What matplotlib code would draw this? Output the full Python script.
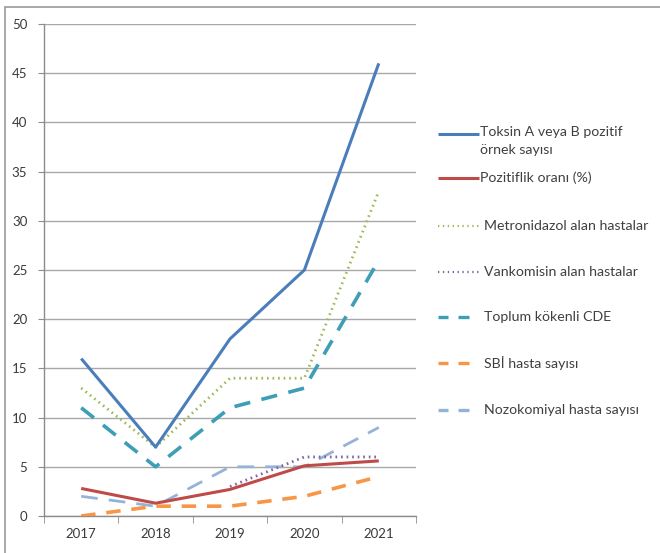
import numpy as np
import matplotlib
matplotlib.use("Agg")
import matplotlib.pyplot as plt
from matplotlib.lines import Line2D
from matplotlib.patches import Rectangle

plt.rcParams['font.family'] = ['Lato', 'DejaVu Sans']

years = ['2017', '2018', '2019', '2020', '2021']
toksin = [16, 7, 18, 25, 46]
pozitiflik = [2.8, 1.3, 2.7, 5.1, 5.6]
metronidazol = [13, 7, 14, 14, 33]
vankomisin = [np.nan, np.nan, 3, 6, 6]
toplum = [11, 5, 11, 13, 26]
sbi = [0, 1, 1, 2, 4]
nozokomiyal = [2, 1, 5, 5, 9]

labels = ['Toksin A veya B pozitif\nörnek sayısı', 'Pozitiflik oranı (%)',
          'Metronidazol alan hastalar', 'Vankomisin alan hastalar',
          'Toplum kökenli CDE', 'SBİ hasta sayısı', 'Nozokomiyal hasta sayısı']

W, H = 660, 553
fig = plt.figure(figsize=(W / 100, H / 100), dpi=100)

# outer chart frame
fig.add_artist(Rectangle((5 / W, -0.05), 1.2, 1 - 7 / H + 0.05, transform=fig.transFigure,
                         fill=False, edgecolor='#9a9a9a', linewidth=1.2))

ax = fig.add_axes([44 / W, 1 - 516 / H, (416 - 44) / W, (516 - 24) / H])
x = np.arange(len(years))

styles = [
    dict(data=toksin, color='#4a7ebb', lw=2.2, ls='-'),
    dict(data=pozitiflik, color='#be4b48', lw=2.2, ls='-'),
    dict(data=metronidazol, color='#9bbb59', lw=2.0, ls=(0, (0.6, 1.4))),
    dict(data=vankomisin, color='#8064a2', lw=2.0, ls=(0, (0.6, 1.4))),
    dict(data=toplum, color='#3c9fb6', lw=2.6, ls=(0, (4.5, 3.2))),
    dict(data=sbi, color='#f79646', lw=2.6, ls=(0, (4.0, 3.0))),
    dict(data=nozokomiyal, color='#95b3d7', lw=2.0, ls=(0, (6.0, 4.0))),
]

# draw in stacking order (last drawn on top)
order = [6, 5, 4, 3, 2, 1, 0]
for i in order:
    s = styles[i]
    ax.plot(x, s['data'], color=s['color'], lw=s['lw'], linestyle=s['ls'],
            solid_capstyle='butt', dash_capstyle='butt', zorder=3 + (6 - i) * 0.1)

ax.set_xlim(-0.5, 4.5)
ax.set_ylim(0, 50)
ax.set_yticks(range(0, 51, 5))
ax.set_xticks(x)
ax.set_xticklabels(years)
ax.set_xticks(np.arange(-0.5, 5, 1), minor=True)
ax.tick_params(axis='x', which='major', length=0, pad=9, labelsize=9.5, labelcolor='#3a3a3a')
ax.tick_params(axis='x', which='minor', length=5, color='#8c8c8c', direction='out')
ax.tick_params(axis='y', length=4, color='#8c8c8c', pad=8, labelsize=9.5, labelcolor='#3a3a3a')
ax.grid(axis='y', color='#a8a8a8', lw=1.0)
ax.set_axisbelow(True)
for sp in ['top', 'right']:
    ax.spines[sp].set_visible(False)
for sp in ['left', 'bottom']:
    ax.spines[sp].set_color('#8c8c8c')
    ax.spines[sp].set_linewidth(1.0)

# legend drawn at the right of the plot area
legend_y = [134, 178, 226, 272, 317, 363, 410]
x0, x1 = 438, 479
for i, (s, lab, yy) in enumerate(zip(styles, labels, legend_y)):
    yf = 1 - yy / H
    if i in (4, 5, 6):
        for a, b in [(438, 448), (458, 469)]:
            fig.add_artist(Line2D([a / W, b / W], [yf, yf], transform=fig.transFigure,
                                  color=s['color'], lw=2.4, solid_capstyle='butt'))
        tx = 484
    elif i in (2, 3):
        fig.add_artist(Line2D([x0 / W, x1 / W], [yf, yf], transform=fig.transFigure,
                              color=s['color'], lw=1.6, linestyle=(0, (0.6, 1.6))))
        tx = 484
    else:
        fig.add_artist(Line2D([x0 / W, x1 / W], [yf, yf], transform=fig.transFigure,
                              color=s['color'], lw=2.2, solid_capstyle='butt'))
        tx = 480
    fig.text(tx / W, yf, lab, ha='left', va='top' if '\n' in lab else 'center',
             fontsize=10.2, color='#404040', linespacing=1.55,
             transform=fig.transFigure)
    if '\n' in lab:
        # first text line aligned with its handle
        fig.texts[-1].set_y(yf + 8 / H)

fig.savefig('out.png', dpi=100)
